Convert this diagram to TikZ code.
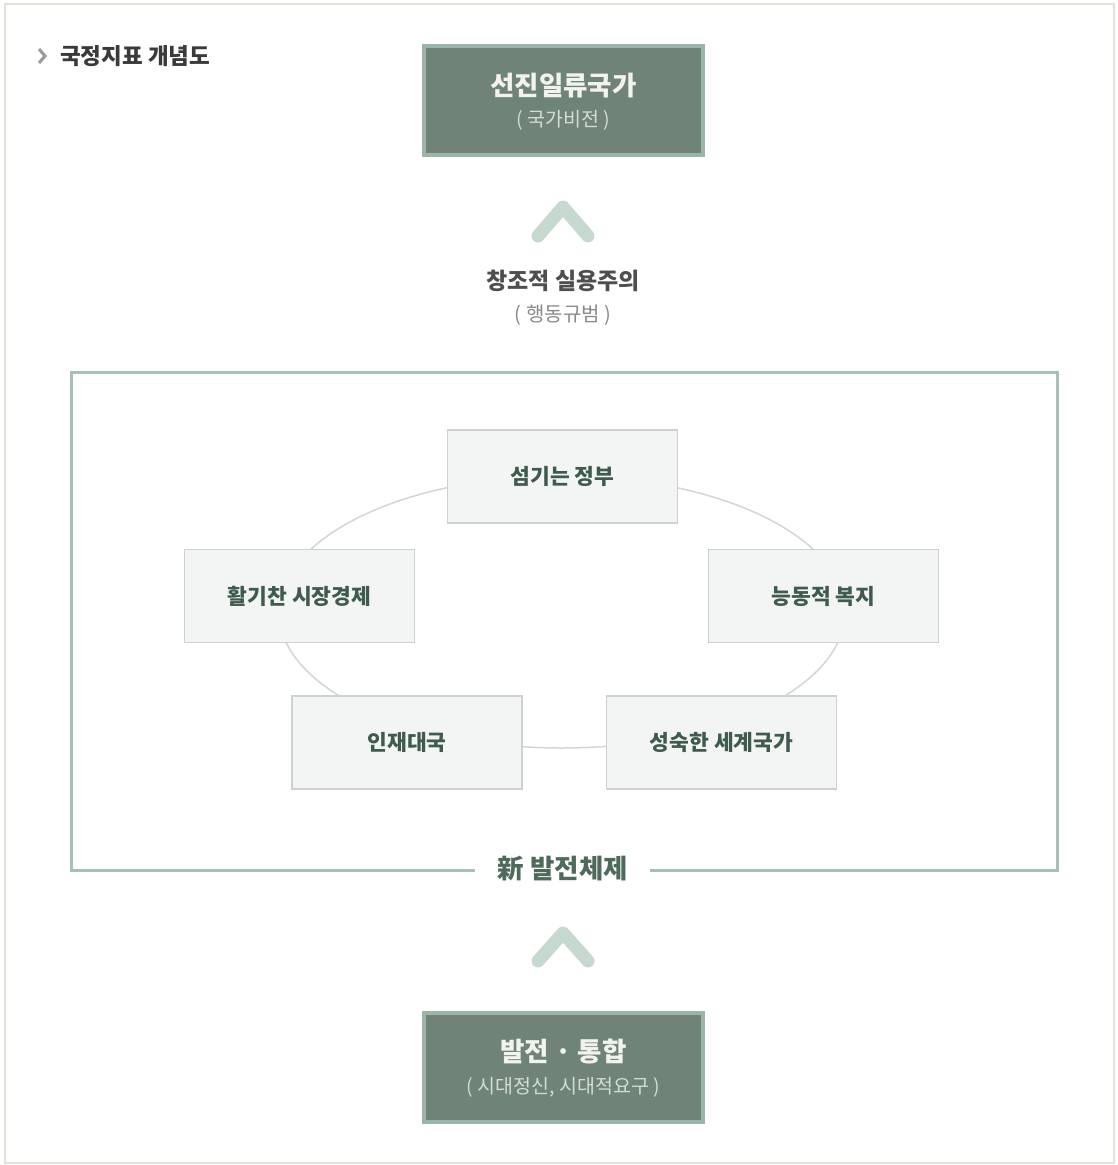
\documentclass[tikz,border=0pt]{standalone}
\usepackage{fontspec}
\setmainfont{Noto Sans CJK KR}
\usetikzlibrary{shapes.geometric}
\definecolor{pageborder}{HTML}{E3E1D8}
\definecolor{darkfill}{HTML}{6F8477}
\definecolor{darkrim}{HTML}{9BB5A8}
\definecolor{lighttext}{HTML}{F2F3EE}
\definecolor{subtext}{HTML}{D3DCD5}
\definecolor{chev}{HTML}{C6D9CE}
\definecolor{framecol}{HTML}{A7C0B3}
\definecolor{greentext}{HTML}{4D6A5B}
\definecolor{nodetext}{HTML}{3F5B4D}
\definecolor{nodefill}{HTML}{F3F5F4}
\definecolor{noderim}{HTML}{CDD2CF}
\definecolor{ringcol}{HTML}{D5D5D5}
\definecolor{titletext}{HTML}{3A3A3A}
\definecolor{greytext}{HTML}{8A8A8A}
\begin{document}
\begin{tikzpicture}[x=1pt,y=-1pt,
  darkbox/.style={draw=darkrim, line width=4pt, fill=darkfill, minimum width=279pt, minimum height=109pt, inner sep=0pt},
  pillar/.style={draw=noderim, line width=1.3pt, fill=nodefill, minimum width=230pt, minimum height=93pt, inner sep=0pt, text=nodetext, font=\fontsize{21.5}{25}\selectfont\bfseries},
  chevron/.style={draw=chev, line width=13pt, line cap=round, line join=round},
  bigtitle/.style={text=lighttext, font=\fontsize{26.5}{30}\selectfont\bfseries, inner sep=0pt},
  subtitle/.style={text=subtext, font=\fontsize{19.5}{23}\selectfont, inner sep=0pt}
]
\useasboundingbox (0,0) rectangle (1117,1165);
\fill[white] (0,0) rectangle (1117,1165);
\draw[pageborder, line width=2pt] (5,4) rectangle (1114,1163);

% heading
\node[anchor=west, text=titletext, font=\fontsize{22.5}{26}\selectfont\bfseries, inner sep=0pt] (heading) at (60,56) {국정지표 개념도};
\coordinate (hc1) at (39,49);
\coordinate (hc2) at (45,56);
\coordinate (hc3) at (39,63);
\draw[gray!80, line width=3pt, line join=miter] (hc1) -- (hc2) -- (hc3);

% top box
\node[darkbox] (vision) at (563.5,100.5) {};
\node[bigtitle] (visiont) at (563.5,86) {선진일류국가};
\node[subtitle] (visions) at (563.5,120) {( 국가비전 )};

% top chevron
\coordinate (c1a) at (538,236);
\coordinate (c1b) at (563,207);
\coordinate (c1c) at (588,236);
\draw[chevron] (c1a) -- (c1b) -- (c1c);

\node[text=titletext!90, font=\fontsize{23}{27}\selectfont\bfseries, inner sep=0pt] (norm) at (563,281) {창조적 실용주의};
\node[text=greytext, font=\fontsize{20}{24}\selectfont, inner sep=0pt] (norms) at (563,315) {( 행동규범 )};

% frame
\node[text=greentext, font=\fontsize{26.5}{30}\selectfont\bfseries, inner sep=0pt] (system) at (563,869) {新 발전체제};
\coordinate (fbl) at (71,870);
\coordinate (ftl) at (71,372);
\coordinate (ftr) at (1057,372);
\coordinate (fbr) at (1057,870);
\coordinate (gapl) at (475,870);
\coordinate (gapr) at (650,870);
\draw[framecol, line width=3pt, line join=miter] (gapl) -- (fbl) -- (ftl) -- (ftr) -- (fbr) -- (gapr);

% ring
\node[draw=ringcol, line width=1.5pt, ellipse, minimum width=566pt, minimum height=272pt, inner sep=0pt] (ring) at (562,612) {};

% pillars
\node[pillar] (serve) at (562.5,476.5) {섬기는 정부};
\node[pillar] (market) at (299.5,596) {활기찬 시장경제};
\node[pillar] (welfare) at (823.5,596) {능동적 복지};
\node[pillar] (talent) at (407,742.5) {인재대국};
\node[pillar] (global) at (721.5,742.5) {성숙한 세계국가};

% bottom chevron
\coordinate (c2a) at (538,961);
\coordinate (c2b) at (563,933);
\coordinate (c2c) at (588,961);
\draw[chevron] (c2a) -- (c2b) -- (c2c);

% bottom box
\node[darkbox] (base) at (563.5,1067.5) {};
\node[bigtitle] (baset) at (563.5,1051) {발전 · 통합};
\node[subtitle] (bases) at (563.5,1087) {( 시대정신, 시대적요구 )};
\end{tikzpicture}
\end{document}
